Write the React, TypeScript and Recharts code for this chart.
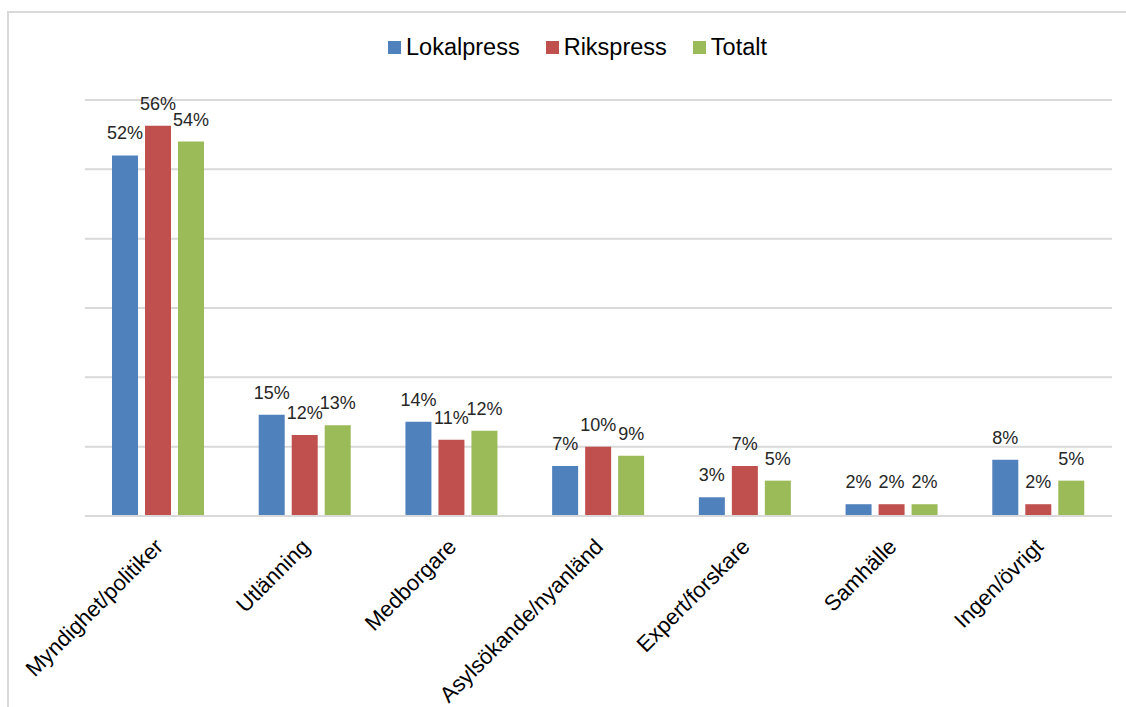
import { BarChart, Bar, XAxis, YAxis, CartesianGrid, Legend, LabelList } from 'recharts';

const categories = [
  'Myndighet/politiker',
  'Utlänning',
  'Medborgare',
  'Asylsökande/nyanländ',
  'Expert/forskare',
  'Samhälle',
  'Ingen/övrigt',
];
const lokalpress = [52, 14.6, 13.6, 7.2, 2.7, 1.7, 8.1];
const rikspress = [56.3, 11.7, 11, 10, 7.2, 1.7, 1.7];
const totalt = [54, 13.1, 12.3, 8.7, 5.1, 1.7, 5.1];
const yTicks = [0, 10, 20, 30, 40, 50, 60];

const series = [
  { key: 'Lokalpress', color: '#4F81BD' },
  { key: 'Rikspress', color: '#C0504D' },
  { key: 'Totalt', color: '#9BBB59' },
];

const data = categories.map((name, i) => ({
  name,
  Lokalpress: lokalpress[i],
  Rikspress: rikspress[i],
  Totalt: totalt[i],
}));

const FONT = '"Liberation Sans", Arial, sans-serif';

const AxisTick = (props: any) => {
  const { x, y, payload } = props;
  const ax = x + 6;
  const ay = y + 24;
  return (
    <text
      x={ax}
      y={ay}
      textAnchor="end"
      fontSize={22}
      fill="#000"
      fontFamily={FONT}
      transform={`rotate(-45, ${ax}, ${ay})`}
    >
      {payload.value}
    </text>
  );
};

const LegendBox = () => (
  <div style={{ display: 'flex', alignItems: 'center', fontFamily: FONT, fontSize: 23.5, color: '#000' }}>
    {series.map((s) => (
      <div key={s.key} style={{ display: 'flex', alignItems: 'center', marginRight: 26 }}>
        <span style={{ width: 13, height: 13, background: s.color, display: 'inline-block', marginRight: 5 }} />
        <span>{s.key}</span>
      </div>
    ))}
  </div>
);

const fmt = (v: any) => `${Math.round(Number(v))}%`;

export default function App() {
  return (
    <div style={{ position: 'absolute', left: 0, top: 0, width: 1126, height: 707, overflow: 'hidden', background: '#fff' }}>
      <div
        style={{
          position: 'absolute',
          left: 7,
          top: 11,
          width: 1200,
          height: 800,
          border: '2px solid #d9d9d9',
          boxSizing: 'border-box',
        }}
      />
      <div style={{ position: 'absolute', left: 0, top: 0 }}>
        <BarChart
          width={1126}
          height={707}
          data={data}
          margin={{ top: 100, right: 14, left: 85, bottom: 0 }}
          barSize={26}
          barGap={7}
        >
          <CartesianGrid vertical={false} stroke="#d9d9d9" strokeWidth={2} />
          <XAxis
            dataKey="name"
            height={191}
            interval={0}
            tickLine={false}
            axisLine={{ stroke: '#d9d9d9', strokeWidth: 2 }}
            tick={<AxisTick />}
          />
          <YAxis hide domain={[0, 60]} ticks={yTicks} />
          <Legend
            verticalAlign="middle"
            align="center"
            content={<LegendBox />}
            wrapperStyle={{ left: 388, top: 34, width: 'auto' }}
          />
          {series.map((s) => (
            <Bar key={s.key} dataKey={s.key} fill={s.color} isAnimationActive={false}>
              <LabelList
                dataKey={s.key}
                position="top"
                offset={16}
                formatter={fmt}
                fontSize={18}
                fill="#262626"
                fontFamily={FONT}
              />
            </Bar>
          ))}
        </BarChart>
      </div>
    </div>
  );
}
